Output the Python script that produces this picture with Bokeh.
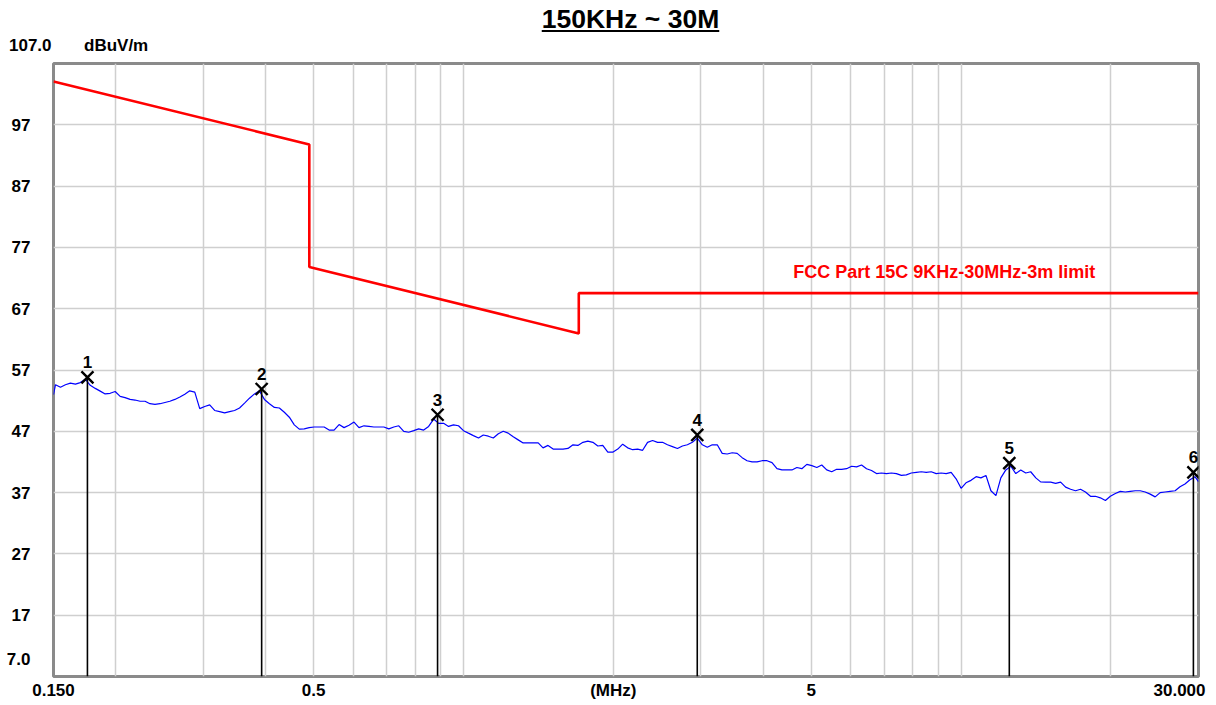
import math
from bokeh.plotting import figure
from bokeh.models import FixedTicker, Label, Div
from bokeh.layouts import column
from bokeh.embed import file_html
from bokeh.resources import INLINE
from bokeh.core.properties import value

# ---------------- data ----------------
title_text = "150KHz ~ 30M"
y_unit = "dBuV/m"
limit_name = "FCC Part 15C 9KHz-30MHz-3m limit"

x_min, x_max = 0.15, 30.0
y_min, y_max = 7.0, 107.0

y_ticks = [17, 27, 37, 47, 57, 67, 77, 87, 97]
x_grid = [0.2, 0.3, 0.4, 0.5, 0.6, 0.7, 0.8, 0.9, 1, 2, 3, 4, 5, 6, 7, 8, 9, 10, 20]
x_label_ticks = [0.15, 0.5, 2, 5, 30.0]
x_label_texts = ["0.150", "0.5", "(MHz)", "5", "30.000"]

limit_freq = [0.15, 0.49, 0.49, 1.705, 1.705, 30.0]
limit_level = [104.08, 93.80, 73.80, 62.97, 69.54, 69.54]

trace_freq = [
    0.150,
    0.1514, 0.1549, 0.1585, 0.1622, 0.1660, 0.1698, 0.1738, 0.1778, 0.1820, 0.1862,
    0.1905, 0.1950, 0.1995, 0.2042, 0.2089, 0.2138, 0.2188, 0.2239, 0.2291, 0.2344,
    0.2399, 0.2455, 0.2512, 0.2570, 0.2630, 0.2692, 0.2754, 0.2818, 0.2884, 0.2951,
    0.3020, 0.3090, 0.3162, 0.3236, 0.3311, 0.3388, 0.3467, 0.3548, 0.3631, 0.3715,
    0.3802, 0.3890, 0.3981, 0.4074, 0.4169, 0.4266, 0.4365, 0.4467, 0.4571, 0.4677,
    0.4786, 0.4898, 0.5012, 0.5129, 0.5248, 0.5370, 0.5495, 0.5623, 0.5754, 0.5888,
    0.6026, 0.6166, 0.6310, 0.6457, 0.6607, 0.6761, 0.6918, 0.7079, 0.7244, 0.7413,
    0.7586, 0.7762, 0.7943, 0.8128, 0.8318, 0.8511, 0.8710, 0.8913, 0.9120, 0.9333,
    0.9550, 0.9772,
    1.000, 1.023, 1.047, 1.072, 1.096, 1.122, 1.148, 1.175, 1.202, 1.230,
    1.259, 1.288, 1.318, 1.349, 1.380, 1.413, 1.445, 1.479, 1.514, 1.549,
    1.585, 1.622, 1.660, 1.698, 1.738, 1.778, 1.820, 1.862, 1.905, 1.950,
    1.995, 2.042, 2.089, 2.138, 2.188, 2.239, 2.291, 2.344, 2.399, 2.455,
    2.512, 2.570, 2.630, 2.692, 2.754, 2.818, 2.884, 2.951, 3.020, 3.090,
    3.162, 3.236, 3.311, 3.388, 3.467, 3.548, 3.631, 3.715, 3.802, 3.890,
    3.981, 4.074, 4.169, 4.266, 4.365, 4.467, 4.571, 4.677, 4.786, 4.898,
    5.012, 5.129, 5.248, 5.370, 5.495, 5.623, 5.754, 5.888, 6.026, 6.166,
    6.310, 6.457, 6.607, 6.761, 6.918, 7.079, 7.244, 7.413, 7.586, 7.762,
    7.943, 8.128, 8.318, 8.511, 8.710, 8.913, 9.120, 9.333, 9.550, 9.772,
    10.00, 10.23, 10.47, 10.72, 10.96, 11.22, 11.48, 11.75, 12.02, 12.30,
    12.59, 12.88, 13.18, 13.49, 13.80, 14.13, 14.45, 14.79, 15.14, 15.49,
    15.85, 16.22, 16.60, 16.98, 17.38, 17.78, 18.20, 18.62, 19.05, 19.50,
    19.95, 20.42, 20.89, 21.38, 21.88, 22.39, 22.91, 23.44, 23.99, 24.55,
    25.12, 25.70, 26.30, 26.92, 27.54, 28.18, 28.84, 29.51,
    30.00,
]

trace_level = [
    53.0,
    54.6, 54.2, 54.6, 54.85, 54.7, 54.95, 55.5, 54.5, 54.0, 53.55,
    53.1, 53.2, 53.5, 52.7, 52.5, 52.2, 52.1, 51.9, 51.9, 51.5,
    51.4, 51.5, 51.7, 51.9, 52.2, 52.6, 53.05, 53.6, 53.4, 50.7,
    51.05, 51.3, 50.4, 50.2, 50.0, 50.2, 50.4, 50.8, 51.6, 52.4,
    53.1, 53.6, 52.2, 51.5, 50.9, 50.8, 50.1, 49.3, 48.05, 47.35,
    47.4, 47.6, 47.7, 47.7, 47.7, 47.2, 47.2, 48.1, 47.6, 48.0,
    48.5, 47.6, 47.9, 47.8, 47.7, 47.7, 47.7, 47.4, 47.7, 47.9,
    47.0, 46.85, 47.1, 47.4, 47.2, 47.8, 49.0, 48.3, 48.3, 47.8,
    48.05, 47.9,
    47.1, 46.7, 46.3, 45.9, 46.4, 46.2, 45.9, 46.6, 47.0, 46.7,
    46.1, 45.6, 45.1, 45.1, 45.1, 45.1, 44.3, 44.7, 44.1, 44.1,
    44.1, 44.2, 44.8, 44.7, 45.2, 45.4, 45.2, 44.6, 44.7, 43.6,
    43.6, 44.1, 44.9, 44.3, 44.0, 44.1, 43.9, 45.2, 45.5, 45.2,
    45.2, 44.8, 44.5, 44.2, 44.6, 44.8, 45.2, 45.9, 44.8, 44.4,
    44.8, 44.8, 43.4, 43.3, 43.5, 43.4, 42.7, 42.2, 42.0, 42.0,
    42.2, 42.2, 41.9, 40.9, 40.7, 40.7, 40.7, 41.1, 40.9, 41.6,
    41.4, 41.1, 41.5, 40.7, 40.4, 40.8, 40.8, 40.9, 41.3, 41.2,
    41.5, 40.9, 40.6, 40.1, 40.2, 40.1, 40.2, 40.1, 39.8, 39.9,
    40.2, 40.3, 40.4, 40.3, 40.4, 40.1, 40.2, 40.1, 40.3, 39.25,
    37.7, 38.6, 39.0, 39.6, 39.4, 39.8, 37.3, 36.5, 39.4, 40.7,
    41.3, 40.1, 40.7, 40.2, 40.4, 39.4, 38.75, 38.7, 38.7, 38.5,
    38.7, 37.9, 37.55, 37.3, 37.55, 37.1, 36.4, 36.4, 36.15, 35.7,
    36.4, 36.85, 37.2, 37.1, 37.2, 37.3, 37.3, 37.1, 36.75, 36.3,
    37.0, 37.1, 37.2, 37.3, 37.95, 38.4, 39.1, 39.6,
    38.8,
]

marker_freq = [0.1755, 0.393, 0.887, 2.95, 12.5, 29.3]
marker_level = [55.8, 53.9, 49.7, 46.4, 41.8, 40.3]
marker_ids = ["1", "2", "3", "4", "5", "6"]

# ---------------- layout ----------------
FONT = "Liberation Sans"
LBL = "17px"

W, H_HEAD, H_FIG = 1216, 55, 650
BL, BR, BT, BB = 53, 18, 8, 29
frame_w = W - BL - BR
frame_h = H_FIG - BT - BB
px_per_decade = frame_w / math.log10(x_max / x_min)
px_per_db = frame_h / (y_max - y_min)

header = Div(
    text=(
        '<div style="position:relative;width:1216px;height:55px;'
        "font-family:'Liberation Sans',Arial,sans-serif;font-weight:bold;color:#000;\">"
        '<div style="position:absolute;left:0;top:5px;width:1216px;padding-left:45px;'
        'box-sizing:border-box;text-align:center;font-size:26.5px;line-height:28px;'
        f'text-decoration:underline;">{title_text}</div>'
        '<div style="position:absolute;left:9px;top:37px;font-size:17px;line-height:18px;'
        f'white-space:nowrap;">{y_max:.1f}</div>'
        '<div style="position:absolute;left:84px;top:37px;font-size:17px;line-height:18px;'
        f'white-space:nowrap;">{y_unit}</div>'
        '</div>'
    ),
    width=W, height=H_HEAD, margin=(0, 0, 0, 0),
)

p = figure(
    width=W, height=H_FIG,
    x_axis_type="log", x_range=(x_min, x_max), y_range=(y_min, y_max),
    output_backend="svg", toolbar_location=None, title=None,
    min_border_left=BL, min_border_right=BR, min_border_top=BT, min_border_bottom=BB,
    background_fill_color="white", border_fill_color="white",
)
p.outline_line_color = "#8a8a8a"
p.outline_line_width = 3

# grid
p.xgrid.ticker = FixedTicker(ticks=x_grid)
p.ygrid.ticker = FixedTicker(ticks=y_ticks)
for g in (p.xgrid, p.ygrid):
    g.grid_line_color = "#cfcfcf"
    g.grid_line_width = 1.5

# x labels: the last one is drawn left-shifted so it stays inside the page
x_pos = list(x_label_ticks)
x_pos[-1] = x_max * 10 ** (-19 / px_per_decade)
p.xaxis.ticker = FixedTicker(ticks=x_pos)
p.xaxis.major_label_overrides = dict(zip(x_pos, x_label_texts))

# y labels: bottom value label floats just above the frame corner
y_min_pos = y_min + 18 / px_per_db
y_pos = [y_min_pos] + y_ticks
p.yaxis.ticker = FixedTicker(ticks=y_pos)
p.yaxis.major_label_overrides = dict(zip(y_pos, [f"{y_min:.1f}"] + [str(t) for t in y_ticks]))

for ax in (p.xaxis, p.yaxis):
    ax.axis_line_color = None
    ax.major_tick_line_color = None
    ax.minor_tick_line_color = None
    ax.major_tick_out = 0
    ax.major_tick_in = 0
    ax.major_label_text_font = FONT
    ax.major_label_text_font_size = LBL
    ax.major_label_text_font_style = "bold"
    ax.major_label_text_color = "black"
p.yaxis.major_label_standoff = 23
p.xaxis.major_label_standoff = 4

# limit line
p.line(limit_freq, limit_level, color="#ff0000", line_width=2.6)

# measurement trace
p.line(trace_freq, trace_level, color="#0000ff", line_width=1.2)

# markers
p.segment(x0=marker_freq, y0=marker_level, x1=marker_freq,
          y1=[y_min] * len(marker_freq), color="black", line_width=1.6)
p.scatter(marker_freq, marker_level, marker="x", size=17, line_width=2.4, color="black")
p.text(marker_freq, marker_level, text=marker_ids, y_offset=-15,
       text_align="center", text_baseline="middle",
       text_font=value(FONT), text_font_size="17px", text_font_style="bold",
       text_color="black")

p.add_layout(Label(x=4.6, y=limit_level[-1], text=limit_name, x_offset=0, y_offset=21,
                   text_align="left", text_baseline="middle",
                   text_font=FONT, text_font_size="18px", text_font_style="bold",
                   text_color="#ff0000"))

layout = column(header, p, spacing=0)
open("out.html", "w").write(file_html(layout, INLINE))
